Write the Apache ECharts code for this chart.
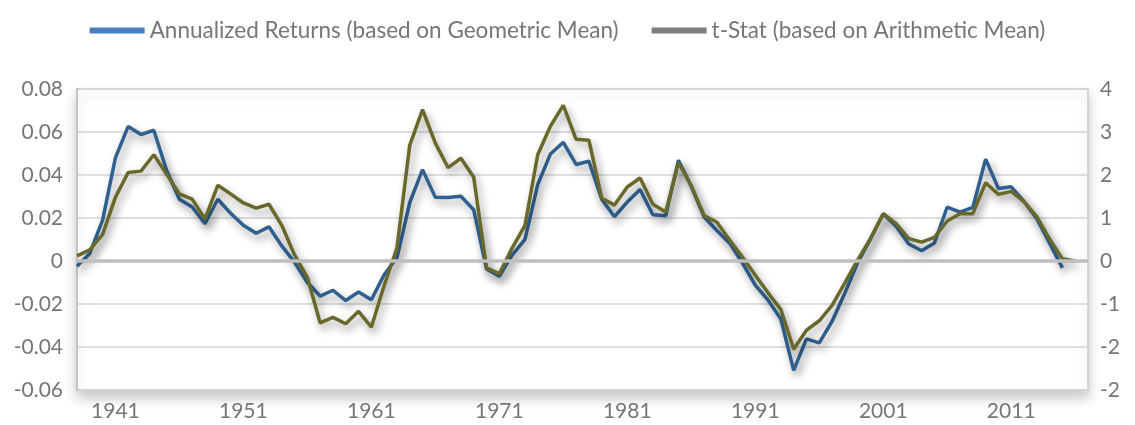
<!DOCTYPE html>
<html>
<head>
<meta charset="utf-8">
<script src="https://cdn.jsdelivr.net/npm/echarts/dist/echarts.min.js"></script>
<style>
html,body{margin:0;padding:0;background:#fff;}
#chart{width:1135px;height:425px;}
</style>
</head>
<body>
<div id="chart"></div>
<script>
var years = [1938,1939,1940,1941,1942,1943,1944,1945,1946,1947,
             1948,1949,1950,1951,1952,1953,1954,1955,1956,1957,
             1958,1959,1960,1961,1962,1963,1964,1965,1966,1967,
             1968,1969,1970,1971,1972,1973,1974,1975,1976,1977,
             1978,1979,1980,1981,1982,1983,1984,1985,1986,1987,
             1988,1989,1990,1991,1992,1993,1994,1995,1996,1997,
             1998,1999,2000,2001,2002,2003,2004,2005,2006,2007,
             2008,2009,2010,2011,2012,2013,2014,2015,2016,2017];

var annualizedReturns = [
  -0.0024, 0.0035, 0.0190, 0.0480, 0.0626, 0.0588, 0.0608, 0.0422, 0.0287, 0.0251,
   0.0174, 0.0287, 0.0222, 0.0166, 0.0129, 0.0159, 0.0070,-0.0006,-0.0100,-0.0163,
  -0.0136,-0.0184,-0.0144,-0.0180,-0.0064, 0.0015, 0.0271, 0.0425, 0.0296, 0.0295,
   0.0301, 0.0238,-0.0037,-0.0071, 0.0027, 0.0100, 0.0355, 0.0498, 0.0552, 0.0449,
   0.0464, 0.0287, 0.0206, 0.0274, 0.0332, 0.0215, 0.0211, 0.0469, 0.0346, 0.0206,
   0.0142, 0.0083,-0.0010,-0.0112,-0.0182,-0.0270,-0.0509,-0.0362,-0.0381,-0.0281,
  -0.0149,-0.0008, 0.0102, 0.0220, 0.0162, 0.0079, 0.0048, 0.0084, 0.0251, 0.0227,
   0.0249, 0.0474, 0.0337, 0.0345, 0.0277, 0.0197, 0.0083,-0.0032, null, null
];

var tStat = [
   0.12, 0.26, 0.62, 1.48, 2.06, 2.09, 2.47, 2.02, 1.56, 1.44,
   0.98, 1.76, 1.56, 1.35, 1.23, 1.32, 0.83, 0.14,-0.38,-1.44,
  -1.31,-1.46,-1.17,-1.54,-0.57, 0.30, 2.69, 3.52, 2.74, 2.17,
   2.39, 1.95,-0.16,-0.30, 0.30, 0.82, 2.47, 3.14, 3.62, 2.83,
   2.81, 1.46, 1.30, 1.72, 1.93, 1.32, 1.14, 2.29, 1.75, 1.06,
   0.90, 0.49, 0.09,-0.33,-0.74,-1.13,-2.05,-1.61,-1.39,-1.03,
  -0.51, 0.02, 0.52, 1.10, 0.87, 0.52, 0.44, 0.55, 0.93, 1.10,
   1.10, 1.82, 1.55, 1.62, 1.38, 1.03, 0.51, 0.05, 0.00, null
];

var seriesNames = ['Annualized Returns (based on Geometric Mean)', 't-Stat (based on Arithmetic Mean)'];
var leftTickLabels  = ['-0.06','-0.04','-0.02','0','0.02','0.04','0.06','0.08'];
var rightTickLabels = ['-2','-2','-1','0','1','2','3','4'];
var xLabelStart = 1941, xLabelStep = 10;

var chart = echarts.init(document.getElementById('chart'), null, {renderer:'canvas'});
var FONT = 'Lato';
var GREY = '#767676';

var option = {
  animation: false,
  backgroundColor: '#ffffff',
  legend: {
    top: 14,
    left: 'center',
    icon: 'rect',
    itemWidth: 55,
    itemHeight: 6,
    itemGap: 33,
    textStyle: {color: GREY, fontFamily: FONT, fontSize: 22.5},
    data: [
      {name: seriesNames[0], itemStyle: {color: '#4A7EBB'}},
      {name: seriesNames[1], itemStyle: {color: '#7F7F7F'}}
    ]
  },
  grid: {
    left: 77, right: 47, top: 89, bottom: 35,
    show: true, borderColor: '#CACACA', borderWidth: 1.5, backgroundColor: '#ffffff',
    shadowColor: 'rgba(0,0,0,0.22)', shadowBlur: 12, shadowOffsetY: 7
  },
  xAxis: {
    type: 'category',
    data: years,
    boundaryGap: false,
    axisLine: {show: false},
    axisTick: {show: false},
    splitLine: {show: false},
    axisLabel: {
      color: GREY, fontFamily: FONT, fontSize: 21, margin: 11,
      interval: function (idx, val) { return (Number(val) - xLabelStart) % xLabelStep === 0; }
    }
  },
  yAxis: [
    {
      type: 'value', min: -0.06, max: 0.08, interval: 0.02, position: 'left',
      axisLine: {show: true, lineStyle: {color: '#C4C4C4', width: 2}},
      axisTick: {show: false},
      splitLine: {show: true, lineStyle: {color: '#D4D4D4', width: 1.5}},
      axisLabel: {
        color: GREY, fontFamily: FONT, fontSize: 21, margin: 14,
        formatter: function (v) { return leftTickLabels[Math.round((v + 0.06) / 0.02)]; }
      }
    },
    {
      type: 'value', min: -3, max: 4, interval: 1, position: 'right',
      axisLine: {show: false},
      axisTick: {show: false},
      splitLine: {show: false},
      axisLabel: {
        color: GREY, fontFamily: FONT, fontSize: 21, margin: 12,
        formatter: function (v) { return rightTickLabels[Math.round(v + 3)]; }
      }
    }
  ],
  series: [
    {
      name: 'zero', type: 'line', data: [], z: 1, yAxisIndex: 0,
      markLine: {
        silent: true, symbol: 'none', label: {show: false},
        lineStyle: {color: '#BEBEBE', width: 3.5, type: 'solid'},
        data: [{yAxis: 0}]
      }
    },
    {
      name: seriesNames[0], type: 'line', yAxisIndex: 0, data: annualizedReturns,
      showSymbol: false, z: 3, connectNulls: false,
      itemStyle: {color: '#4A7EBB'},
      lineStyle: {color: '#2F6090', width: 3.5, shadowColor: 'rgba(0,0,0,0.4)', shadowBlur: 8, shadowOffsetX: 3, shadowOffsetY: 5}
    },
    {
      name: seriesNames[1], type: 'line', yAxisIndex: 1, data: tStat,
      showSymbol: false, z: 4, connectNulls: false,
      itemStyle: {color: '#7F7F7F'},
      lineStyle: {color: '#69682B', width: 3.5, shadowColor: 'rgba(0,0,0,0.4)', shadowBlur: 8, shadowOffsetX: 3, shadowOffsetY: 5}
    }
  ]
};
chart.setOption(option);
</script>
</body>
</html>
